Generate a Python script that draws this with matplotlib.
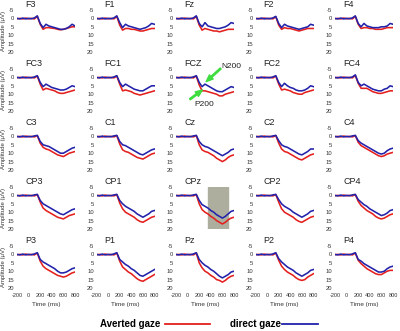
import matplotlib
matplotlib.use('Agg')
import matplotlib.pyplot as plt
from matplotlib.lines import Line2D

plt.rcParams['font.family'] = ['Liberation Sans', 'DejaVu Sans']
plt.rcParams['axes.unicode_minus'] = False

# time axis (ms)
times = [-200, -150, -100, -50, 0, 50, 100, 150, 200, 250, 300,
         350, 400, 450, 500, 550, 600, 650, 700, 750, 800]

# amplitude (uV), averted gaze (red) / direct gaze (blue)
f3_av = [0.2, 0, 0.3, -0.2, 0.2, 0, 0.3, -1.2, 3.5, 6.5, 5.5, 5.5, 5.8, 6, 6.5, 6.8, 6.5, 6, 5.5, 5, 5]
f3_di = [0, 0.3, -0.2, 0.3, 0, 0.2, -0.3, -1.5, 3, 5.5, 3.5, 4.5, 5, 5.5, 6, 6.5, 6.5, 6, 5, 3.5, 4.5]
f1_av = [0.2, 0, 0.3, -0.2, 0.2, 0, 0.3, -1.2, 4, 7, 6, 6, 6.5, 6.5, 7, 7.5, 7.5, 7, 6.5, 6, 6]
f1_di = [0, 0.3, -0.2, 0.3, 0, 0.2, -0.3, -1.5, 2.5, 5.5, 3.5, 4.5, 5, 5.5, 6, 6.5, 6, 5.5, 4.5, 3, 3.5]
fz_av = [0.2, 0, 0.3, -0.2, 0.2, 0, 0.3, -1.2, 4, 7, 6, 6.5, 7, 7.5, 7.5, 8, 7.5, 7, 6.5, 6.5, 6.5]
fz_di = [0, 0.3, -0.2, 0.3, 0, 0.2, -0.3, -1.5, 3, 5, 2.5, 4.5, 5, 5.5, 6, 6, 5.5, 5, 4, 2.5, 3]
f2_av = [0.2, 0, 0.3, -0.2, 0.2, 0, 0.3, -1, 4, 6.5, 5.5, 6, 6, 6.5, 7, 7.5, 7, 6.5, 6, 6, 6]
f2_di = [0, 0.3, -0.2, 0.3, 0, 0.2, -0.3, -1.2, 3, 5.5, 3.5, 4.5, 5, 5.5, 6, 6.5, 6, 5.5, 5, 3.5, 4]
f4_av = [0.2, 0, 0.3, -0.2, 0.2, 0, 0.3, -1.2, 3.5, 6, 5.5, 5.5, 6, 6, 6.5, 6.5, 6.5, 6, 5.5, 5.5, 5.5]
f4_di = [0, 0.3, -0.2, 0.3, 0, 0.2, -0.3, -1.5, 3, 5, 3, 4.5, 5, 5.5, 5.5, 5.5, 5, 5, 4.5, 3, 3.5]

fc3_av = [0.2, 0, 0.3, -0.2, 0.2, 0, 0.3, -0.8, 4, 7.5, 6.5, 7, 7.5, 8, 9, 9.5, 9.5, 9, 8.5, 8, 7.5]
fc3_di = [0, 0.3, -0.2, 0.3, 0, 0.2, -0.3, -1, 3, 5.5, 4, 5, 6, 6.5, 7, 7.5, 7.5, 7, 6, 5, 5.5]
fc1_av = [0.2, 0, 0.3, -0.2, 0.2, 0, 0.3, -0.8, 4, 8, 7.5, 8, 8.5, 9.5, 10, 10.5, 10, 9.5, 9, 8.5, 8]
fc1_di = [0, 0.3, -0.2, 0.3, 0, 0.2, -0.3, -1, 3, 5.5, 4, 5, 6, 7, 7.5, 8, 8, 7, 6, 5, 5]
fcz_av = [0.2, 0, 0.3, -0.2, 0.2, 0, 0.3, -0.8, 4.5, 8, 8, 8.5, 9, 9.5, 10, 11, 11, 10, 9.5, 9, 8.5]
fcz_di = [0, 0.3, -0.2, 0.3, 0, 0.2, -0.3, -1, 3, 5.5, 4, 5, 6, 7, 8, 8.5, 8.5, 7.5, 6.5, 5.5, 6]
fc2_av = [0.2, 0, 0.3, -0.2, 0.2, 0, 0.3, -0.8, 4, 7.5, 7, 7.5, 8, 9, 9.5, 10, 10, 9, 8.5, 8, 7.5]
fc2_di = [0, 0.3, -0.2, 0.3, 0, 0.2, -0.3, -1, 3, 5.5, 3.5, 5, 6, 6.5, 7.5, 8, 8, 7.5, 6.5, 5, 5.5]
fc4_av = [0.2, 0, 0.3, -0.2, 0.2, 0, 0.3, -1.2, 3.5, 6.5, 6.5, 6.5, 7.5, 8.5, 9, 9.5, 9.5, 9, 8.5, 8, 8]
fc4_di = [0, 0.3, -0.2, 0.3, 0, 0.2, -0.3, -1.5, 3, 5, 4, 5, 6, 7, 7.5, 8, 8, 7, 6.5, 5, 5.5]

c3_av = [0.2, 0, 0.3, -0.2, 0.2, 0, 0.3, -0.5, 4, 6.5, 7.5, 8, 9, 10, 11, 11.5, 12, 11, 10, 9.5, 9]
c3_di = [0, 0.3, -0.2, 0.3, 0, 0.2, -0.3, -0.6, 3, 5, 5.5, 6, 7, 8, 9, 10, 10, 9, 8, 7, 6.5]
c1_av = [0.2, 0, 0.3, -0.2, 0.2, 0, 0.3, -0.5, 4.5, 8, 9, 9.5, 10.5, 11.5, 12.5, 13, 13.5, 12.5, 11.5, 10.5, 10]
c1_di = [0, 0.3, -0.2, 0.3, 0, 0.2, -0.3, -0.6, 3, 5, 5.5, 6.5, 7.5, 8.5, 9.5, 10.5, 11, 10, 9, 8, 7.5]
cz_av = [0.2, 0, 0.3, -0.2, 0.2, 0, 0.3, -0.5, 5, 8, 9, 9.5, 10.5, 11.5, 13, 14, 15, 14, 12.5, 11.5, 11]
cz_di = [0, 0.3, -0.2, 0.3, 0, 0.2, -0.3, -0.6, 3, 5, 6, 6.5, 7.5, 8.5, 9.5, 10.5, 11.5, 10.5, 9.5, 8, 7.5]
c2_av = [0.2, 0, 0.3, -0.2, 0.2, 0, 0.3, -0.5, 4, 7.5, 9, 9.5, 10.5, 11.5, 12.5, 13.5, 14, 13, 12, 11, 10.5]
c2_di = [0, 0.3, -0.2, 0.3, 0, 0.2, -0.3, -0.6, 2.5, 5, 6, 6.5, 7.5, 8.5, 9.5, 10.5, 11, 10, 9, 7.5, 7.5]
c4_av = [0.2, 0, 0.3, -0.2, 0.2, 0, 0.3, -0.5, 3.5, 5.5, 6.5, 7.5, 8.5, 9.5, 10.5, 11.5, 12, 11.5, 10.5, 10, 9.5]
c4_di = [0, 0.3, -0.2, 0.3, 0, 0.2, -0.3, -0.6, 2.5, 4, 5, 6, 7, 8, 9, 10, 10.5, 10, 8.5, 7.5, 7]

cp3_av = [0.2, 0, 0.3, -0.2, 0.2, 0, 0.3, -0.5, 4, 7.5, 9, 10, 11, 12, 13, 13.5, 14, 13, 12, 11.5, 11]
cp3_di = [0, 0.3, -0.2, 0.3, 0, 0.2, -0.3, -0.6, 3, 5, 6, 7, 8, 9, 10, 11, 11.5, 10.5, 9.5, 8.5, 8]
cp1_av = [0.2, 0, 0.3, -0.2, 0.2, 0, 0.3, -0.5, 4.5, 8, 10, 11, 12, 13, 14.5, 15.5, 16, 15, 14, 13, 12.5]
cp1_di = [0, 0.3, -0.2, 0.3, 0, 0.2, -0.3, -0.6, 3, 5, 6.5, 7.5, 8.5, 9.5, 11, 12, 13, 12, 11, 9.5, 9]
cpz_av = [0.2, 0, 0.3, -0.2, 0.2, 0, 0.3, -0.5, 5, 8.5, 10, 11, 12.5, 13.5, 15, 16, 17, 16, 14.5, 13.5, 13]
cpz_di = [0, 0.3, -0.2, 0.3, 0, 0.2, -0.3, -0.6, 3, 5.5, 6.5, 7.5, 9, 10, 11.5, 12.5, 13.5, 12.5, 11, 9.5, 9]
cp2_av = [0.2, 0, 0.3, -0.2, 0.2, 0, 0.3, -0.5, 4, 8, 10, 11, 12, 13, 14.5, 15.5, 16, 15, 14, 13, 12.5]
cp2_di = [0, 0.3, -0.2, 0.3, 0, 0.2, -0.3, -0.6, 2.5, 5, 6.5, 7.5, 8.5, 10, 11, 12, 13, 12, 11, 9.5, 9]
cp4_av = [0.2, 0, 0.3, -0.2, 0.2, 0, 0.3, -0.5, 3.5, 6, 7.5, 9, 10, 11, 12.5, 13.5, 14, 13.5, 12.5, 11.5, 11]
cp4_di = [0, 0.3, -0.2, 0.3, 0, 0.2, -0.3, -0.6, 2.5, 4, 5.5, 6.5, 8, 9, 10, 11, 12, 11.5, 10.5, 9, 8.5]

p3_av = [0.2, 0, 0.3, -0.2, 0.2, 0, 0.3, -0.8, 4, 7, 8.5, 9.5, 10.5, 11.5, 12.5, 13, 13.5, 13, 12, 11, 10.5]
p3_di = [0, 0.3, -0.2, 0.3, 0, 0.2, -0.3, -1, 3, 4.5, 5.5, 6.5, 7.5, 8.5, 10, 11, 11, 10.5, 9.5, 8.5, 8]
p1_av = [0.2, 0, 0.3, -0.2, 0.2, 0, 0.3, -0.8, 4, 7.5, 9, 10.5, 11.5, 13, 14.5, 15.5, 16, 15, 14, 13, 12]
p1_di = [0, 0.3, -0.2, 0.3, 0, 0.2, -0.3, -1, 3, 4.5, 6, 7, 8.5, 9.5, 11, 12.5, 13, 12, 11, 10, 9]
pz_av = [0.2, 0, 0.3, -0.2, 0.2, 0, 0.3, -0.8, 5, 8, 10, 11, 12.5, 13.5, 15, 15.5, 16.5, 15.5, 14, 13, 12.5]
pz_di = [0, 0.3, -0.2, 0.3, 0, 0.2, -0.3, -1, 3, 5, 6.5, 7.5, 9, 10, 11.5, 13, 14, 13, 12, 10.5, 10]
p2_av = [0.2, 0, 0.3, -0.2, 0.2, 0, 0.3, -0.8, 3.5, 7, 9, 10.5, 11.5, 12.5, 14, 15, 15.5, 15, 13.5, 12.5, 11.5]
p2_di = [0, 0.3, -0.2, 0.3, 0, 0.2, -0.3, -1, 2.5, 4.5, 6, 7.5, 8.5, 9.5, 11, 12, 13, 12, 11, 9.5, 9]
p4_av = [0.2, 0, 0.3, -0.2, 0.2, 0, 0.3, -0.8, 3.5, 5.5, 7, 8.5, 9.5, 10.5, 11.5, 12, 12, 11, 10, 9.5, 9.5]
p4_di = [0, 0.3, -0.2, 0.3, 0, 0.2, -0.3, -1, 3, 4, 5.5, 6.5, 7.5, 8.5, 9.5, 10.5, 10.5, 10, 8.5, 7.5, 7]

panel_rows = [
    [('F3', f3_av, f3_di), ('F1', f1_av, f1_di), ('Fz', fz_av, fz_di),
     ('F2', f2_av, f2_di), ('F4', f4_av, f4_di)],
    [('FC3', fc3_av, fc3_di), ('FC1', fc1_av, fc1_di), ('FCZ', fcz_av, fcz_di),
     ('FC2', fc2_av, fc2_di), ('FC4', fc4_av, fc4_di)],
    [('C3', c3_av, c3_di), ('C1', c1_av, c1_di), ('Cz', cz_av, cz_di),
     ('C2', c2_av, c2_di), ('C4', c4_av, c4_di)],
    [('CP3', cp3_av, cp3_di), ('CP1', cp1_av, cp1_di), ('CPz', cpz_av, cpz_di),
     ('CP2', cp2_av, cp2_di), ('CP4', cp4_av, cp4_di)],
    [('P3', p3_av, p3_di), ('P1', p1_av, p1_di), ('Pz', pz_av, pz_di),
     ('P2', p2_av, p2_di), ('P4', p4_av, p4_di)],
]

y_ticks = [-5, 0, 5, 10, 15, 20]
x_ticks = [-200, 0, 200, 400, 600, 800]
window = (350, 700)  # shaded window in CPz

RED = '#e3201e'
BLUE = '#2222aa'
GREEN = '#3fdc3f'

W, H = 400, 331
fig = plt.figure(figsize=(W / 100, H / 100), dpi=100)
fig.set_facecolor('white')

col_left = [17, 96.5, 176, 255.5, 335]
row_top = [10, 69, 128, 187, 246]
ax_w, ax_h = 58, 42

for r, row in enumerate(panel_rows):
    for c, (name, av, di) in enumerate(row):
        ax = fig.add_axes([col_left[c] / W, 1 - (row_top[r] + ax_h) / H,
                           ax_w / W, ax_h / H])
        ax.plot(times, av, color=RED, lw=1.15, zorder=3)
        ax.plot(times, di, color=BLUE, lw=1.15, zorder=4)
        ax.set_xlim(-200, 800)
        ax.set_ylim(20, -5)
        ax.set_yticks(y_ticks)
        ax.set_xticks(x_ticks)
        ax.tick_params(length=0, labelsize=4.2, colors='#333333', pad=2)
        for s in ax.spines.values():
            s.set_visible(False)
        ax.text(0.14, 1.03, name, transform=ax.transAxes, ha='left',
                va='bottom', fontsize=6.5, color='#222222')
        if c == 0:
            ax.set_ylabel('Amplitude (\u03bcV)', fontsize=4.3, labelpad=1.5,
                          color='#333333')
        if r == len(panel_rows) - 1:
            ax.tick_params(axis='x', pad=3.5, labelsize=4.0)
            ax.set_xlabel('Time (ms)', fontsize=4.6, labelpad=3,
                          color='#333333')
        else:
            ax.set_xticklabels([])

        if name == 'CPz':
            ax.axvspan(window[0], window[1], color='#aeae9f', zorder=1)
        if name == 'FCZ':
            arrow = dict(facecolor=GREEN, edgecolor=GREEN, width=1.0,
                         headwidth=4, headlength=5, shrink=0)
            ax.annotate('', xy=(320, 2.5), xytext=(570, -5.3),
                        arrowprops=arrow, annotation_clip=False, zorder=6)
            ax.annotate('', xy=(255, 7.5), xytext=(40, 13),
                        arrowprops=arrow, annotation_clip=False, zorder=6)
            ax.text(590, -6.3, 'N200', fontsize=6, va='center', ha='left',
                    color='#222222', clip_on=False)
            ax.text(110, 16, 'P200', fontsize=6, va='center', ha='left',
                    color='#222222', clip_on=False)

# legend at bottom
ly = 1 - 324 / H
fig.text(100 / W, ly, 'Averted gaze', fontsize=7, fontweight='bold',
         ha='left', va='center')
fig.add_artist(Line2D([165 / W, 210 / W], [ly, ly], color=RED, lw=1.3))
fig.text(230 / W, ly, 'direct gaze', fontsize=7, fontweight='bold',
         ha='left', va='center')
fig.add_artist(Line2D([282 / W, 318 / W], [ly, ly], color=BLUE, lw=1.3))

fig.savefig('out.png', dpi=100)
